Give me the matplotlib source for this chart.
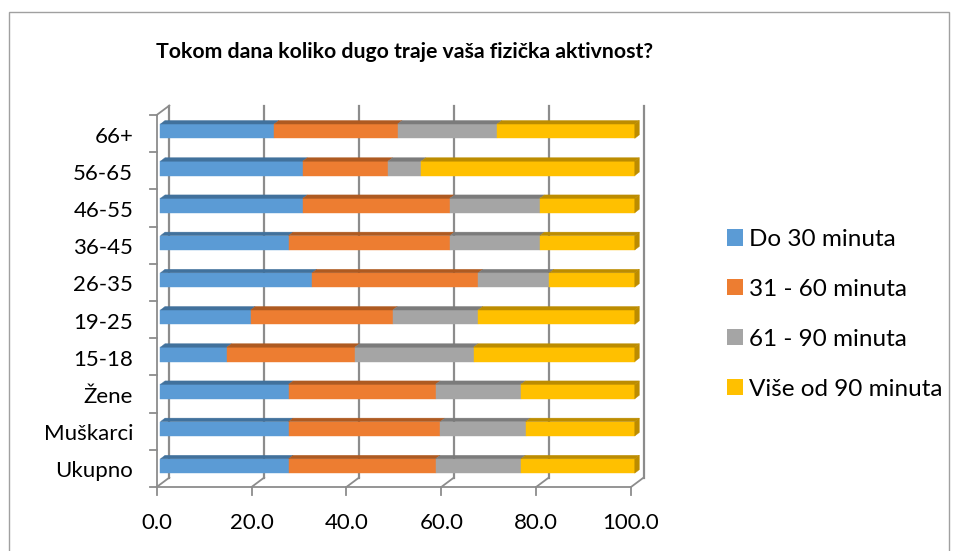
import matplotlib
matplotlib.use('Agg')
import matplotlib.pyplot as plt
from matplotlib.patches import Polygon, Rectangle, Patch
import numpy as np

plt.rcParams['font.family'] = ['Lato', 'DejaVu Sans']

# data (bottom to top)
categories = ['Ukupno', 'Muškarci', 'Žene', '15-18', '19-25', '26-35',
              '36-45', '46-55', '56-65', '66+']
do_30 = [27, 27, 27, 14, 19, 32, 27, 30, 30, 24]
od_31_60 = [31, 32, 31, 27, 30, 35, 34, 31, 18, 26]
od_61_90 = [18, 18, 18, 25, 18, 15, 19, 19, 7, 21]
vise_90 = [24, 23, 24, 34, 33, 18, 20, 20, 45, 29]
series_names = ['Do 30 minuta', '31 - 60 minuta', '61 - 90 minuta', 'Više od 90 minuta']
x_ticks = [0, 20, 40, 60, 80, 100]

front = ['#5B9BD5', '#ED7D31', '#A5A5A5', '#FFC000']
top = ['#41719C', '#AE5A21', '#7B7B7B', '#BC8C00']

W, H = 956, 551
fig = plt.figure(figsize=(W / 100, H / 100), dpi=100)

# chart border
fig.patches.append(Rectangle((9 / W, -0.05), 940 / W, 1 - 12 / H + 0.05,
                             transform=fig.transFigure, fill=False,
                             edgecolor='#a0a0a0', lw=1.0))

# front plane of the plot area, in pixels
x0, x1 = 156.7, 631.0
y0, y1 = 487.0, 115.0
ax = fig.add_axes([x0 / W, 1 - y0 / H, (x1 - x0) / W, (y0 - y1) / H])
ax.set_xlim(0, 100)
ax.set_ylim(-0.5, len(categories) - 0.5)
ax.axis('off')

px_x = (x1 - x0) / 100.0
px_y = (y0 - y1) / len(categories)
DX = 12.6 / px_x   # depth shift
DY = 9.4 / px_y
ymin, ymax = -0.5, len(categories) - 0.5
gcol = '#8c8c8c'

# back wall gridlines and floor lines
for v in x_ticks:
    ax.plot([v + DX, v + DX], [ymin + DY, ymax + DY], color=gcol, lw=1.6, clip_on=False, zorder=1)
    ax.plot([v, v + DX], [ymin, ymin + DY], color=gcol, lw=1.3, clip_on=False, zorder=1)
    ax.plot([v, v], [ymin, ymin - 8 / px_y], color=gcol, lw=1.3, clip_on=False, zorder=1)
    ax.text(v, ymin - 36 / px_y, '%.1f' % v, ha='center', va='center', fontsize=16,
            color='#000000')
ax.plot([0, 100], [ymin, ymin], color=gcol, lw=1.3, clip_on=False, zorder=1)
ax.plot([0, 0], [ymin, ymax], color=gcol, lw=1.3, clip_on=False, zorder=1)
ax.plot([0, DX], [ymax, ymax + DY], color=gcol, lw=1.3, clip_on=False, zorder=1)
for k in range(len(categories) + 1):
    ax.plot([0, -7 / px_x], [ymin + k, ymin + k], color=gcol, lw=1.3, clip_on=False, zorder=1)

# bars
FX, FY = 0.8, 0.065
BH = 0.385
ddx, ddy = 0.95, 0.094
ypos = np.arange(len(categories))
data = [do_30, od_31_60, od_61_90, vise_90]
left = np.zeros(len(categories))
for s, vals in enumerate(data):
    vals = np.array(vals, dtype=float)
    ax.barh(ypos + FY, vals, left=left + FX, height=BH, color=front[s],
            edgecolor=front[s], lw=0.3, zorder=3, clip_on=False)
    for i in range(len(categories)):
        l = left[i] + FX
        r = left[i] + vals[i] + FX
        t = ypos[i] + FY + BH / 2
        ax.add_patch(Polygon([(l, t), (r, t), (r + ddx, t + ddy), (l + ddx, t + ddy)],
                             closed=True, facecolor=top[s], edgecolor=top[s], lw=0.3,
                             zorder=3, clip_on=False))
        if s == len(data) - 1:
            b = ypos[i] + FY - BH / 2
            ax.add_patch(Polygon([(r, b), (r, t), (r + ddx, t + ddy), (r + ddx, b + ddy)],
                                 closed=True, facecolor=top[s], edgecolor=top[s], lw=0.3,
                                 zorder=3, clip_on=False))
    left = left + vals

# category labels
for i, c in enumerate(categories):
    ax.text(-23.5 / px_x, i - 0.08, c, ha='right', va='center', fontsize=16, color='#000000')

# title
fig.text(405 / W, 1 - 52 / H, 'Tokom dana koliko dugo traje vaša fizička aktivnost?',
         ha='center', va='center', fontsize=15.3, fontweight='bold')

# legend
handles = [Patch(facecolor=front[s], edgecolor='none') for s in range(4)]
fig.legend(handles, series_names, loc='upper left', bbox_to_anchor=(727 / W, 1 - 229 / H),
           frameon=False, fontsize=17.5, handlelength=0.65, handleheight=0.65,
           handletextpad=0.27, labelspacing=1.19, borderpad=0, borderaxespad=0)

fig.savefig('out.png', dpi=100)
